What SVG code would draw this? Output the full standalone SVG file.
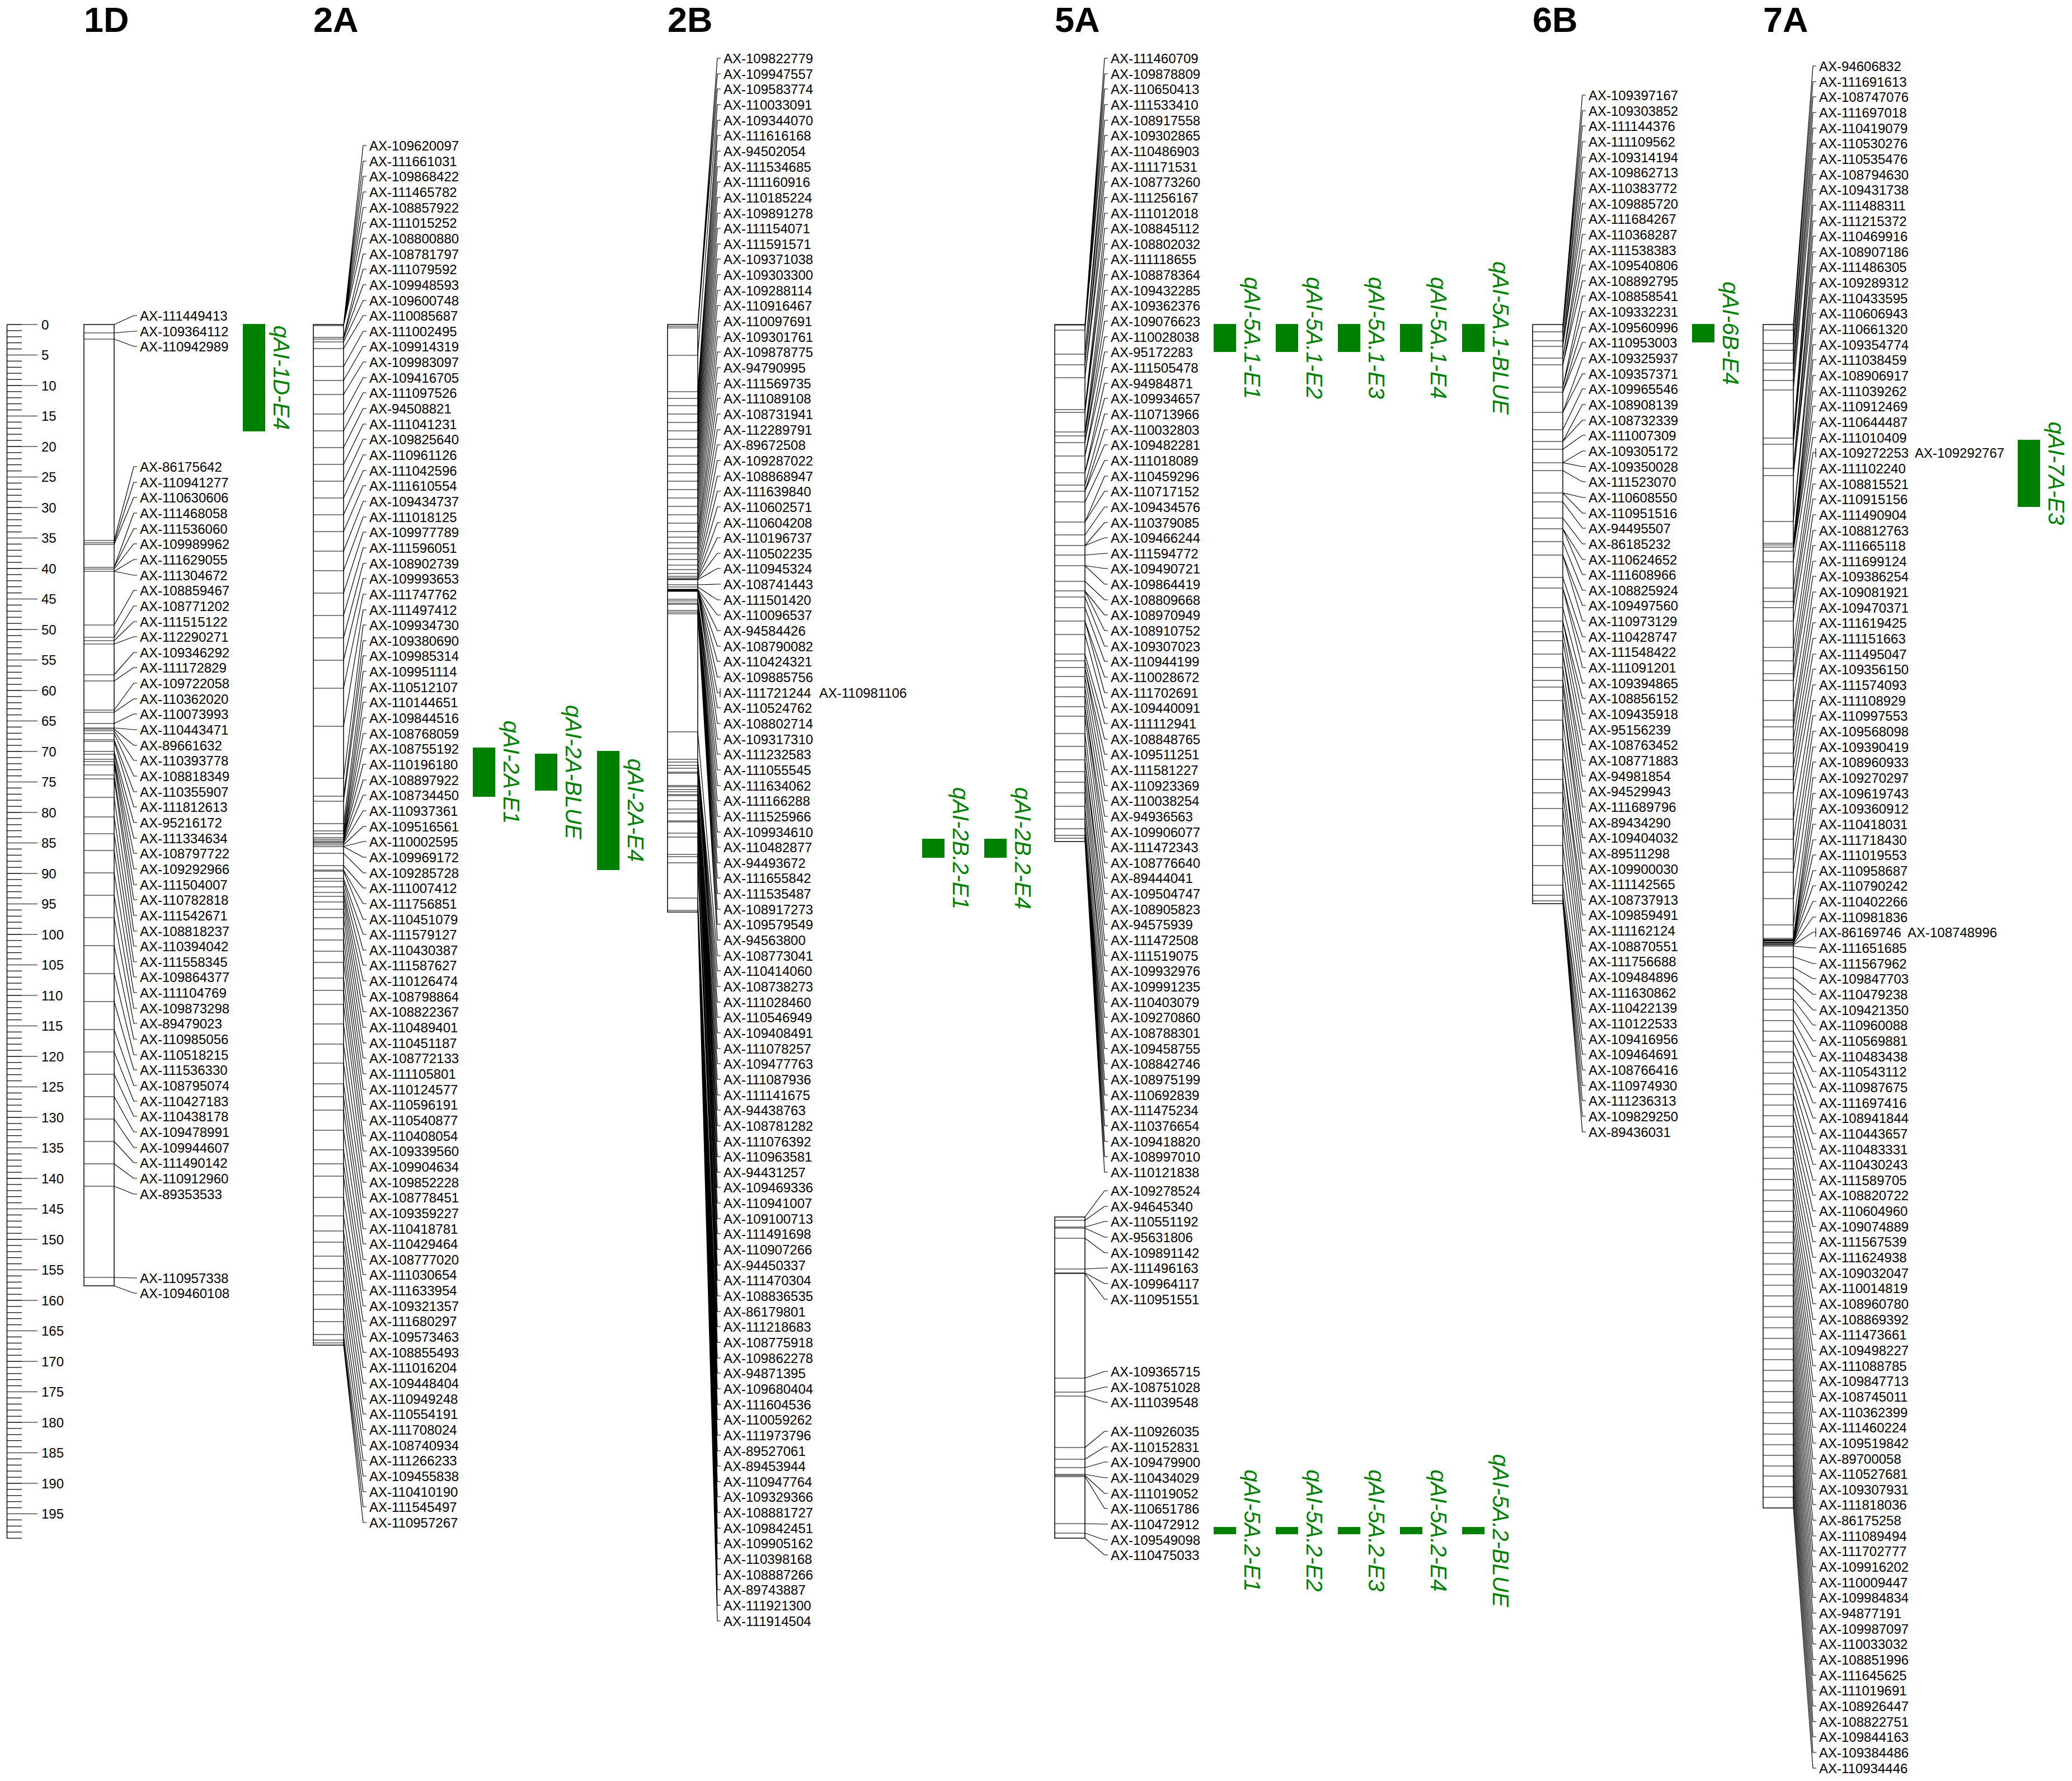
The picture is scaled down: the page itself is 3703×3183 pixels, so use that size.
<svg xmlns="http://www.w3.org/2000/svg" width="3703" height="3183" viewBox="0 0 3703 3183">
<style>
text{font-family:"Liberation Sans",Arial,Helvetica,sans-serif;fill:#000}
.t{font-size:63px;font-weight:bold}
.m text,.r text{font-size:24px}
.q{fill:#008000}
.ql{font-size:40px;font-style:italic;fill:#008000;text-anchor:middle}
.bar{fill:#fff;stroke:#000;stroke-width:1.5}
.ln{fill:none;stroke:#000;stroke-width:1.2}
</style>
<rect width="3703" height="3183" fill="#fff"/>
<g id="ruler">
<path d="M25.75,579.4V2750" stroke="#000" stroke-width="26.5" stroke-dasharray="1.2 9.7" fill="none"/>
<path d="M39.75,579.4V2750" stroke="#000" stroke-width="54.5" stroke-dasharray="1.2 53.3" fill="none"/>
<path d="M12.5,580V2749.6" stroke="#000" stroke-width="1.5"/>
<g class="r" transform="translate(74,8.6)">
<text y="580">0</text><text y="634.5">5</text><text y="689">10</text><text y="743.5">15</text><text y="798">20</text><text y="852.5">25</text><text y="907">30</text><text y="961.5">35</text><text y="1016">40</text><text y="1070.5">45</text><text y="1125">50</text><text y="1179.5">55</text><text y="1234">60</text><text y="1288.5">65</text><text y="1343">70</text><text y="1397.5">75</text><text y="1452">80</text><text y="1506.5">85</text><text y="1561">90</text><text y="1615.5">95</text><text y="1670">100</text><text y="1724.5">105</text><text y="1779">110</text><text y="1833.5">115</text><text y="1888">120</text><text y="1942.5">125</text><text y="1997">130</text><text y="2051.5">135</text><text y="2106">140</text><text y="2160.5">145</text><text y="2215">150</text><text y="2269.5">155</text><text y="2324">160</text><text y="2378.5">165</text><text y="2433">170</text><text y="2487.5">175</text><text y="2542">180</text><text y="2596.5">185</text><text y="2651">190</text><text y="2705.5">195</text>
</g>
</g>

<g id="chr1D">
<text class="t" x="150" y="57">1D</text>
<rect class="bar" x="150" y="580" width="54" height="1718"/>
<path class="ln" transform="translate(150,0)" d="M0,595h54M0,606h54M0,966h54M0,970h54M0,973h54M0,1014h54M0,1017h54M0,1021h54M0,1117h54M0,1139h54M0,1145h54M0,1151h54M0,1206h54M0,1217h54M0,1269h54M0,1273h54M0,1293h54M0,1301h54M0,1303h54M0,1306h54M0,1311h54M0,1322h54M0,1325h54M0,1343h54M0,1348h54M0,1357h54M0,1361h54M0,1367h54M0,1385h54M0,1392h54M0,1425h54M0,1460h54M0,1490h54M0,1520h54M0,1560h54M0,1600h54M0,1640h54M0,1690h54M0,1740h54M0,1790h54M0,1840h54M0,1880h54M0,1920h54M0,1960h54M0,2000h54M0,2040h54M0,2080h54M0,2120h54M0,2283h54"/>
<g class="m" transform="translate(250,8.6)">
<text y="564">AX-111449413</text><text y="592">AX-109364112</text><text y="619">AX-110942989</text>
<text y="834">AX-86175642</text><text y="862">AX-110941277</text><text y="889">AX-110630606</text><text y="917">AX-111468058</text><text y="945">AX-111536060</text><text y="972">AX-109989962</text><text y="1000">AX-111629055</text><text y="1028">AX-111304672</text><text y="1055">AX-108859467</text><text y="1083">AX-108771202</text><text y="1111">AX-111515122</text><text y="1138">AX-112290271</text><text y="1166">AX-109346292</text><text y="1193">AX-111172829</text><text y="1221">AX-109722058</text><text y="1249">AX-110362020</text><text y="1276">AX-110073993</text><text y="1304">AX-110443471</text><text y="1332">AX-89661632</text><text y="1359">AX-110393778</text><text y="1387">AX-108818349</text><text y="1415">AX-110355907</text><text y="1442">AX-111812613</text><text y="1470">AX-95216172</text><text y="1498">AX-111334634</text><text y="1525">AX-108797722</text><text y="1553">AX-109292966</text><text y="1581">AX-111504007</text><text y="1608">AX-110782818</text><text y="1636">AX-111542671</text><text y="1664">AX-108818237</text><text y="1691">AX-110394042</text><text y="1719">AX-111558345</text><text y="1746">AX-109864377</text><text y="1774">AX-111104769</text><text y="1802">AX-109873298</text><text y="1829">AX-89479023</text><text y="1857">AX-110985056</text><text y="1885">AX-110518215</text><text y="1912">AX-111536330</text><text y="1940">AX-108795074</text><text y="1968">AX-110427183</text><text y="1995">AX-110438178</text><text y="2023">AX-109478991</text><text y="2051">AX-109944607</text><text y="2078">AX-111490142</text><text y="2106">AX-110912960</text><text y="2134">AX-89353533</text>
<text y="2284">AX-110957338</text><text y="2311">AX-109460108</text>
</g>
</g>

<g id="chr2A">
<text class="t" x="560" y="57">2A</text>
<rect class="bar" x="560" y="580" width="54" height="1824"/>
<path class="ln" transform="translate(560,0)" d="M0,582h54M0,603h54M0,606h54M0,611h54M0,623h54M0,655h54M0,680h54M0,705h54M0,740h54M0,770h54M0,800h54M0,830h54M0,860h54M0,890h54M0,920h54M0,950h54M0,985h54M0,1020h54M0,1060h54M0,1100h54M0,1140h54M0,1180h54M0,1230h54M0,1298h54M0,1391h54M0,1423h54M0,1432h54M0,1472h54M0,1485h54M0,1490h54M0,1497h54M0,1500h54M0,1503h54M0,1505h54M0,1507h54M0,1510h54M0,1513h54M0,1525h54M0,1547h54M0,1555h54M0,1557h54M0,1570h54M0,1575h54M0,1585h54M0,1595h54M0,1602h54M0,1612h54M0,1625h54M0,1640h54M0,1660h54M0,1680h54M0,1700h54M0,1720h54M0,1748h54M0,1770h54M0,1795h54M0,1830h54M0,1866h54M0,1900h54M0,1937h54M0,1960h54M0,1984h54M0,2020h54M0,2055h54M0,2080h54M0,2102h54M0,2140h54M0,2173h54M0,2200h54M0,2220h54M0,2245h54M0,2267h54M0,2290h54M0,2314h54M0,2340h54M0,2362h54M0,2385h54M0,2395h54M0,2400h54"/>
<g class="m" transform="translate(660,8.6)">
<text y="260">AX-109620097</text><text y="288">AX-111661031</text><text y="315">AX-109868422</text><text y="343">AX-111465782</text><text y="371">AX-108857922</text><text y="398">AX-111015252</text><text y="426">AX-108800880</text><text y="454">AX-108781797</text><text y="481">AX-111079592</text><text y="509">AX-109948593</text>
<text y="537">AX-109600748</text><text y="564">AX-110085687</text><text y="592">AX-111002495</text><text y="619">AX-109914319</text><text y="647">AX-109983097</text><text y="675">AX-109416705</text><text y="702">AX-111097526</text><text y="730">AX-94508821</text><text y="758">AX-111041231</text><text y="785">AX-109825640</text>
<text y="813">AX-110961126</text><text y="841">AX-111042596</text><text y="868">AX-111610554</text><text y="896">AX-109434737</text><text y="924">AX-111018125</text><text y="951">AX-109977789</text><text y="979">AX-111596051</text><text y="1007">AX-108902739</text><text y="1034">AX-109993653</text><text y="1062">AX-111747762</text>
<text y="1090">AX-111497412</text><text y="1117">AX-109934730</text><text y="1145">AX-109380690</text><text y="1172">AX-109985314</text><text y="1200">AX-109951114</text><text y="1228">AX-110512107</text><text y="1255">AX-110144651</text><text y="1283">AX-109844516</text><text y="1311">AX-108768059</text><text y="1338">AX-108755192</text>
<text y="1366">AX-110196180</text><text y="1394">AX-108897922</text><text y="1421">AX-108734450</text><text y="1449">AX-110937361</text><text y="1477">AX-109516561</text><text y="1504">AX-110002595</text><text y="1532">AX-109969172</text><text y="1560">AX-109285728</text><text y="1587">AX-111007412</text><text y="1615">AX-111756851</text>
<text y="1643">AX-110451079</text><text y="1670">AX-111579127</text><text y="1698">AX-110430387</text><text y="1725">AX-111587627</text><text y="1753">AX-110126474</text><text y="1781">AX-108798864</text><text y="1808">AX-108822367</text><text y="1836">AX-110489401</text><text y="1864">AX-110451187</text><text y="1891">AX-108772133</text>
<text y="1919">AX-111105801</text><text y="1947">AX-110124577</text><text y="1974">AX-110596191</text><text y="2002">AX-110540877</text><text y="2030">AX-110408054</text><text y="2057">AX-109339560</text><text y="2085">AX-109904634</text><text y="2113">AX-109852228</text><text y="2140">AX-108778451</text><text y="2168">AX-109359227</text>
<text y="2196">AX-110418781</text><text y="2223">AX-110429464</text><text y="2251">AX-108777020</text><text y="2278">AX-111030654</text><text y="2306">AX-111633954</text><text y="2334">AX-109321357</text><text y="2361">AX-111680297</text><text y="2389">AX-109573463</text><text y="2417">AX-108855493</text><text y="2444">AX-111016204</text>
<text y="2472">AX-109448404</text><text y="2500">AX-110949248</text><text y="2527">AX-110554191</text><text y="2555">AX-111708024</text><text y="2583">AX-108740934</text><text y="2610">AX-111266233</text><text y="2638">AX-109455838</text><text y="2666">AX-110410190</text><text y="2693">AX-111545497</text><text y="2721">AX-110957267</text>
</g>
</g>

<g id="chr2B">
<text class="t" x="1193" y="57">2B</text>
<rect class="bar" x="1193" y="580" width="54" height="1050"/>
<path class="ln" transform="translate(1193,0)" d="M0,583h54M0,586h54M0,635h54M0,700h54M0,712h54M0,725h54M0,740h54M0,755h54M0,770h54M0,785h54M0,800h54M0,815h54M0,830h54M0,845h54M0,860h54M0,875h54M0,890h54M0,905h54M0,920h54M0,935h54M0,950h54M0,960h54M0,970h54M0,980h54M0,990h54M0,1000h54M0,1010h54M0,1018h54M0,1025h54M0,1030h54M0,1033h54M0,1035h54M0,1036h54M0,1045h54M0,1049h54M0,1053h54M0,1054h54M0,1055h54M0,1056h54M0,1057h54M0,1071h54M0,1074h54M0,1078h54M0,1080h54M0,1091h54M0,1094h54M0,1097h54M0,1308h54M0,1357h54M0,1362h54M0,1368h54M0,1373h54M0,1380h54M0,1382h54M0,1404h54M0,1406h54M0,1411h54M0,1415h54M0,1420h54M0,1422h54M0,1431h54M0,1446h54M0,1453h54M0,1467h54M0,1469h54M0,1489h54M0,1496h54M0,1527h54M0,1531h54M0,1542h54M0,1605h54M0,1627h54"/>
<g class="m" transform="translate(1293,8.6)">
<text y="104">AX-109822779</text><text y="132">AX-109947557</text><text y="159">AX-109583774</text><text y="187">AX-110033091</text><text y="215">AX-109344070</text><text y="242">AX-111616168</text><text y="270">AX-94502054</text><text y="298">AX-111534685</text><text y="325">AX-111160916</text><text y="353">AX-110185224</text>
<text y="381">AX-109891278</text><text y="408">AX-111154071</text><text y="436">AX-111591571</text><text y="463">AX-109371038</text><text y="491">AX-109303300</text><text y="519">AX-109288114</text><text y="546">AX-110916467</text><text y="574">AX-110097691</text><text y="602">AX-109301761</text><text y="629">AX-109878775</text>
<text y="657">AX-94790995</text><text y="685">AX-111569735</text><text y="712">AX-111089108</text><text y="740">AX-108731941</text><text y="768">AX-112289791</text><text y="795">AX-89672508</text><text y="823">AX-109287022</text><text y="851">AX-108868947</text><text y="878">AX-111639840</text><text y="906">AX-110602571</text>
<text y="934">AX-110604208</text><text y="961">AX-110196737</text><text y="989">AX-110502235</text><text y="1016">AX-110945324</text><text y="1044">AX-108741443</text><text y="1072">AX-111501420</text><text y="1099">AX-110096537</text><text y="1127">AX-94584426</text><text y="1155">AX-108790082</text><text y="1182">AX-110424321</text>
<text y="1210">AX-109885756</text><text y="1238">AX-111721244</text><text x="171" y="1238">AX-110981106</text><text y="1265">AX-110524762</text><text y="1293">AX-108802714</text><text y="1321">AX-109317310</text><text y="1348">AX-111232583</text><text y="1376">AX-111055545</text><text y="1404">AX-111634062</text><text y="1431">AX-111166288</text><text y="1459">AX-111525966</text>
<text y="1487">AX-109934610</text><text y="1514">AX-110482877</text><text y="1542">AX-94493672</text><text y="1569">AX-111655842</text><text y="1597">AX-111535487</text><text y="1625">AX-108917273</text><text y="1652">AX-109579549</text><text y="1680">AX-94563800</text><text y="1708">AX-108773041</text><text y="1735">AX-110414060</text>
<text y="1763">AX-108738273</text><text y="1791">AX-111028460</text><text y="1818">AX-110546949</text><text y="1846">AX-109408491</text><text y="1874">AX-111078257</text><text y="1901">AX-109477763</text><text y="1929">AX-111087936</text><text y="1957">AX-111141675</text><text y="1984">AX-94438763</text><text y="2012">AX-108781282</text>
<text y="2040">AX-111076392</text><text y="2067">AX-110963581</text><text y="2095">AX-94431257</text><text y="2122">AX-109469336</text><text y="2150">AX-110941007</text><text y="2178">AX-109100713</text><text y="2205">AX-111491698</text><text y="2233">AX-110907266</text><text y="2261">AX-94450337</text><text y="2288">AX-111470304</text>
<text y="2316">AX-108836535</text><text y="2344">AX-86179801</text><text y="2371">AX-111218683</text><text y="2399">AX-108775918</text><text y="2427">AX-109862278</text><text y="2454">AX-94871395</text><text y="2482">AX-109680404</text><text y="2510">AX-111604536</text><text y="2537">AX-110059262</text><text y="2565">AX-111973796</text>
<text y="2593">AX-89527061</text><text y="2620">AX-89453944</text><text y="2648">AX-110947764</text><text y="2675">AX-109329366</text><text y="2703">AX-108881727</text><text y="2731">AX-109842451</text><text y="2758">AX-109905162</text><text y="2786">AX-110398168</text><text y="2814">AX-108887266</text><text y="2841">AX-89743887</text>
<text y="2869">AX-111921300</text><text y="2897">AX-111914504</text>
</g>
</g>

<g id="chr5A">
<text class="t" x="1885" y="57">5A</text>
<rect class="bar" x="1885" y="580" width="54" height="924"/>
<rect class="bar" x="1885" y="2175" width="54" height="574"/>
<path class="ln" transform="translate(1885,0)" d="M0,581h54M0,590h54M0,633h54M0,652h54M0,675h54M0,732h54M0,737h54M0,772h54M0,779h54M0,791h54M0,815h54M0,845h54M0,867h54M0,878h54M0,897h54M0,933h54M0,956h54M0,975h54M0,992h54M0,1011h54M0,1039h54M0,1056h54M0,1067h54M0,1086h54M0,1110h54M0,1134h54M0,1169h54M0,1181h54M0,1193h54M0,1209h54M0,1228h54M0,1245h54M0,1263h54M0,1280h54M0,1311h54M0,1334h54M0,1358h54M0,1379h54M0,1398h54M0,1417h54M0,1441h54M0,1464h54M0,1481h54M0,1493h54M0,1498h54M0,2181h54M0,2193h54M0,2195h54M0,2213h54M0,2268h54M0,2275h54M0,2276h54M0,2463h54M0,2488h54M0,2495h54M0,2587h54M0,2608h54M0,2623h54M0,2635h54M0,2637h54M0,2639h54M0,2723h54M0,2740h54"/>
<g class="m" transform="translate(1985,8.6)">
<text y="104">AX-111460709</text><text y="132">AX-109878809</text><text y="159">AX-110650413</text><text y="187">AX-111533410</text><text y="215">AX-108917558</text><text y="242">AX-109302865</text><text y="270">AX-110486903</text><text y="298">AX-111171531</text><text y="325">AX-108773260</text><text y="353">AX-111256167</text>
<text y="381">AX-111012018</text><text y="408">AX-108845112</text><text y="436">AX-108802032</text><text y="463">AX-111118655</text><text y="491">AX-108878364</text><text y="519">AX-109432285</text><text y="546">AX-109362376</text><text y="574">AX-109076623</text><text y="602">AX-110028038</text><text y="629">AX-95172283</text>
<text y="657">AX-111505478</text><text y="685">AX-94984871</text><text y="712">AX-109934657</text><text y="740">AX-110713966</text><text y="768">AX-110032803</text><text y="795">AX-109482281</text><text y="823">AX-111018089</text><text y="851">AX-110459296</text><text y="878">AX-110717152</text><text y="906">AX-109434576</text>
<text y="934">AX-110379085</text><text y="961">AX-109466244</text><text y="989">AX-111594772</text><text y="1016">AX-109490721</text><text y="1044">AX-109864419</text><text y="1072">AX-108809668</text><text y="1099">AX-108970949</text><text y="1127">AX-108910752</text><text y="1155">AX-109307023</text><text y="1182">AX-110944199</text>
<text y="1210">AX-110028672</text><text y="1238">AX-111702691</text><text y="1265">AX-109440091</text><text y="1293">AX-111112941</text><text y="1321">AX-108848765</text><text y="1348">AX-109511251</text><text y="1376">AX-111581227</text><text y="1404">AX-110923369</text><text y="1431">AX-110038254</text><text y="1459">AX-94936563</text>
<text y="1487">AX-109906077</text><text y="1514">AX-111472343</text><text y="1542">AX-108776640</text><text y="1569">AX-89444041</text><text y="1597">AX-109504747</text><text y="1625">AX-108905823</text><text y="1652">AX-94575939</text><text y="1680">AX-111472508</text><text y="1708">AX-111519075</text><text y="1735">AX-109932976</text>
<text y="1763">AX-109991235</text><text y="1791">AX-110403079</text><text y="1818">AX-109270860</text><text y="1846">AX-108788301</text><text y="1874">AX-109458755</text><text y="1901">AX-108842746</text><text y="1929">AX-108975199</text><text y="1957">AX-110692839</text><text y="1984">AX-111475234</text><text y="2012">AX-110376654</text>
<text y="2040">AX-109418820</text><text y="2067">AX-108997010</text><text y="2095">AX-110121838</text>
<text y="2128">AX-109278524</text><text y="2156">AX-94645340</text><text y="2183">AX-110551192</text><text y="2211">AX-95631806</text><text y="2239">AX-109891142</text><text y="2266">AX-111496163</text><text y="2294">AX-109964117</text><text y="2322">AX-110951551</text>
<text y="2451">AX-109365715</text><text y="2479">AX-108751028</text><text y="2506">AX-111039548</text>
<text y="2558">AX-110926035</text><text y="2586">AX-110152831</text><text y="2613">AX-109479900</text><text y="2641">AX-110434029</text><text y="2669">AX-111019052</text><text y="2696">AX-110651786</text><text y="2724">AX-110472912</text><text y="2752">AX-109549098</text><text y="2779">AX-110475033</text>
</g>
</g>

<g id="chr6B">
<text class="t" x="2739" y="57">6B</text>
<rect class="bar" x="2739" y="580" width="54" height="1035"/>
<path class="ln" transform="translate(2739,0)" d="M0,593h54M0,609h54M0,619h54M0,640h54M0,652h54M0,692h54M0,701h54M0,737h54M0,768h54M0,789h54M0,803h54M0,827h54M0,841h54M0,881h54M0,897h54M0,926h54M0,945h54M0,968h54M0,992h54M0,1032h54M0,1051h54M0,1086h54M0,1110h54M0,1129h54M0,1145h54M0,1169h54M0,1193h54M0,1216h54M0,1228h54M0,1252h54M0,1287h54M0,1322h54M0,1358h54M0,1393h54M0,1417h54M0,1445h54M0,1476h54M0,1511h54M0,1547h54M0,1582h54M0,1600h54M0,1610h54"/>
<g class="m" transform="translate(2839,8.6)">
<text y="170">AX-109397167</text><text y="198">AX-109303852</text><text y="225">AX-111144376</text><text y="253">AX-111109562</text><text y="281">AX-109314194</text><text y="308">AX-109862713</text><text y="336">AX-110383772</text><text y="364">AX-109885720</text><text y="391">AX-111684267</text><text y="419">AX-110368287</text>
<text y="447">AX-111538383</text><text y="474">AX-109540806</text><text y="502">AX-108892795</text><text y="529">AX-108858541</text><text y="557">AX-109332231</text><text y="585">AX-109560996</text><text y="612">AX-110953003</text><text y="640">AX-109325937</text><text y="668">AX-109357371</text><text y="695">AX-109965546</text>
<text y="723">AX-108908139</text><text y="751">AX-108732339</text><text y="778">AX-111007309</text><text y="806">AX-109305172</text><text y="834">AX-109350028</text><text y="861">AX-111523070</text><text y="889">AX-110608550</text><text y="917">AX-110951516</text><text y="944">AX-94495507</text><text y="972">AX-86185232</text>
<text y="1000">AX-110624652</text><text y="1027">AX-111608966</text><text y="1055">AX-108825924</text><text y="1082">AX-109497560</text><text y="1110">AX-110973129</text><text y="1138">AX-110428747</text><text y="1165">AX-111548422</text><text y="1193">AX-111091201</text><text y="1221">AX-109394865</text><text y="1248">AX-108856152</text>
<text y="1276">AX-109435918</text><text y="1304">AX-95156239</text><text y="1331">AX-108763452</text><text y="1359">AX-108771883</text><text y="1387">AX-94981854</text><text y="1414">AX-94529943</text><text y="1442">AX-111689796</text><text y="1470">AX-89434290</text><text y="1497">AX-109404032</text><text y="1525">AX-89511298</text>
<text y="1553">AX-109900030</text><text y="1580">AX-111142565</text><text y="1608">AX-108737913</text><text y="1635">AX-109859491</text><text y="1663">AX-111162124</text><text y="1691">AX-108870551</text><text y="1718">AX-111756688</text><text y="1746">AX-109484896</text><text y="1774">AX-111630862</text><text y="1801">AX-110422139</text>
<text y="1829">AX-110122533</text><text y="1857">AX-109416956</text><text y="1884">AX-109464691</text><text y="1912">AX-108766416</text><text y="1940">AX-110974930</text><text y="1967">AX-111236313</text><text y="1995">AX-109829250</text><text y="2023">AX-89436031</text>
</g>
</g>

<g id="chr7A">
<text class="t" x="3151" y="57">7A</text>
<rect class="bar" x="3151" y="580" width="54" height="2115"/>
<path class="ln" transform="translate(3151,0)" d="M0,590h54M0,614h54M0,626h54M0,649h54M0,661h54M0,680h54M0,697h54M0,783h54M0,794h54M0,837h54M0,850h54M0,932h54M0,971h54M0,974h54M0,978h54M0,985h54M0,1004h54M0,1051h54M0,1075h54M0,1086h54M0,1110h54M0,1157h54M0,1181h54M0,1204h54M0,1216h54M0,1252h54M0,1287h54M0,1299h54M0,1322h54M0,1346h54M0,1370h54M0,1393h54M0,1417h54M0,1464h54M0,1500h54M0,1535h54M0,1559h54M0,1606h54M0,1653h54M0,1677h54M0,1679h54M0,1680h54M0,1681h54M0,1682h54M0,1684h54M0,1685h54M0,1686h54M0,1688h54M0,1689h54M0,1691h54M0,1710h54M0,1729h54M0,1748h54M0,1767h54M0,1786h54M0,1805h54M0,1824h54M0,1843h54M0,1861h54M0,1880h54M0,1899h54M0,1918h54M0,1937h54M0,1956h54M0,1975h54M0,1994h54M0,2013h54M0,2032h54M0,2051h54M0,2070h54M0,2089h54M0,2108h54M0,2127h54M0,2146h54M0,2165h54M0,2183h54M0,2202h54M0,2221h54M0,2240h54M0,2259h54M0,2278h54M0,2297h54M0,2316h54M0,2335h54M0,2354h54M0,2373h54M0,2392h54M0,2411h54M0,2430h54M0,2449h54M0,2468h54M0,2487h54M0,2506h54M0,2525h54M0,2544h54M0,2563h54M0,2582h54M0,2601h54M0,2620h54M0,2638h54M0,2657h54M0,2676h54"/>
<g class="m" transform="translate(3251,8.6)">
<text y="118">AX-94606832</text><text y="146">AX-111691613</text><text y="173">AX-108747076</text><text y="201">AX-111697018</text><text y="229">AX-110419079</text><text y="256">AX-110530276</text><text y="284">AX-110535476</text><text y="312">AX-108794630</text><text y="339">AX-109431738</text><text y="367">AX-111488311</text>
<text y="395">AX-111215372</text><text y="422">AX-110469916</text><text y="450">AX-108907186</text><text y="477">AX-111486305</text><text y="505">AX-109289312</text><text y="533">AX-110433595</text><text y="560">AX-110606943</text><text y="588">AX-110661320</text><text y="616">AX-109354774</text><text y="643">AX-111038459</text>
<text y="671">AX-108906917</text><text y="699">AX-111039262</text><text y="726">AX-110912469</text><text y="754">AX-110644487</text><text y="782">AX-111010409</text><text y="809">AX-109272253</text><text x="171" y="809">AX-109292767</text><text y="837">AX-111102240</text><text y="865">AX-108815521</text><text y="892">AX-110915156</text><text y="920">AX-111490904</text>
<text y="948">AX-108812763</text><text y="975">AX-111665118</text><text y="1003">AX-111699124</text><text y="1030">AX-109386254</text><text y="1058">AX-109081921</text><text y="1086">AX-109470371</text><text y="1113">AX-111619425</text><text y="1141">AX-111151663</text><text y="1169">AX-111495047</text><text y="1196">AX-109356150</text>
<text y="1224">AX-111574093</text><text y="1252">AX-111108929</text><text y="1279">AX-110997553</text><text y="1307">AX-109568098</text><text y="1335">AX-109390419</text><text y="1362">AX-108960933</text><text y="1390">AX-109270297</text><text y="1418">AX-109619743</text><text y="1445">AX-109360912</text><text y="1473">AX-110418031</text>
<text y="1501">AX-111718430</text><text y="1528">AX-111019553</text><text y="1556">AX-110958687</text><text y="1583">AX-110790242</text><text y="1611">AX-110402266</text><text y="1639">AX-110981836</text><text y="1666">AX-86169746</text><text x="158" y="1666">AX-108748996</text><text y="1694">AX-111651685</text><text y="1722">AX-111567962</text><text y="1749">AX-109847703</text>
<text y="1777">AX-110479238</text><text y="1805">AX-109421350</text><text y="1832">AX-110960088</text><text y="1860">AX-110569881</text><text y="1888">AX-110483438</text><text y="1915">AX-110543112</text><text y="1943">AX-110987675</text><text y="1971">AX-111697416</text><text y="1998">AX-108941844</text><text y="2026">AX-110443657</text>
<text y="2054">AX-110483331</text><text y="2081">AX-110430243</text><text y="2109">AX-111589705</text><text y="2136">AX-108820722</text><text y="2164">AX-110604960</text><text y="2192">AX-109074889</text><text y="2219">AX-111567539</text><text y="2247">AX-111624938</text><text y="2275">AX-109032047</text><text y="2302">AX-110014819</text>
<text y="2330">AX-108960780</text><text y="2358">AX-108869392</text><text y="2385">AX-111473661</text><text y="2413">AX-109498227</text><text y="2441">AX-111088785</text><text y="2468">AX-109847713</text><text y="2496">AX-108745011</text><text y="2524">AX-110362399</text><text y="2551">AX-111460224</text><text y="2579">AX-109519842</text>
<text y="2607">AX-89700058</text><text y="2634">AX-110527681</text><text y="2662">AX-109307931</text><text y="2689">AX-111818036</text><text y="2717">AX-86175258</text><text y="2745">AX-111089494</text><text y="2772">AX-111702777</text><text y="2800">AX-109916202</text><text y="2828">AX-110009447</text><text y="2855">AX-109984834</text>
<text y="2883">AX-94877191</text><text y="2911">AX-109987097</text><text y="2938">AX-110033032</text><text y="2966">AX-108851996</text><text y="2994">AX-111645625</text><text y="3021">AX-111019691</text><text y="3049">AX-108926447</text><text y="3077">AX-108822751</text><text y="3104">AX-109844163</text><text y="3132">AX-109384486</text>
<text y="3160">AX-110934446</text>
</g>
</g>

<g id="connectors" class="ln">
<path transform="translate(204,0)" d="M0,580L35,564h6M0,595L35,592h6M0,606L35,619h6M0,966L35,834h6M0,970L35,862h6M0,973L35,889h6M0,1014L35,917h6M0,1014L35,945h6M0,1017L35,972h6M0,1021L35,1000h6M0,1021L35,1028h6M0,1117L35,1055h6M0,1139L35,1083h6M0,1145L35,1111h6M0,1151L35,1138h6M0,1206L35,1166h6M0,1217L35,1193h6M0,1269L35,1221h6M0,1273L35,1249h6M0,1293L35,1276h6M0,1301L35,1304h6M0,1303L35,1332h6M0,1306L35,1359h6M0,1311L35,1387h6M0,1322L35,1415h6M0,1325L35,1442h6M0,1343L35,1470h6M0,1348L35,1498h6M0,1357L35,1525h6M0,1361L35,1553h6M0,1367L35,1581h6M0,1385L35,1608h6M0,1392L35,1636h6M0,1425L35,1664h6M0,1460L35,1691h6M0,1490L35,1719h6M0,1520L35,1746h6M0,1560L35,1774h6M0,1600L35,1802h6M0,1640L35,1829h6M0,1690L35,1857h6M0,1740L35,1885h6M0,1790L35,1912h6M0,1840L35,1940h6M0,1880L35,1968h6M0,1920L35,1995h6M0,1960L35,2023h6M0,2000L35,2051h6M0,2040L35,2078h6M0,2080L35,2106h6M0,2120L35,2134h6M0,2283L35,2284h6M0,2298L35,2311h6"/>
<path transform="translate(614,0)" d="M0,580L35,260h6M0,580L35,288h6M0,580L35,315h6M0,582L35,343h6M0,582L35,371h6M0,582L35,398h6M0,582L35,426h6M0,603L35,454h6M0,603L35,481h6M0,606L35,509h6M0,611L35,537h6M0,623L35,564h6M0,655L35,592h6M0,680L35,619h6M0,705L35,647h6M0,740L35,675h6M0,770L35,702h6M0,800L35,730h6M0,830L35,758h6M0,860L35,785h6M0,890L35,813h6M0,920L35,841h6M0,950L35,868h6M0,985L35,896h6M0,1020L35,924h6M0,1060L35,951h6M0,1100L35,979h6M0,1140L35,1007h6M0,1180L35,1034h6M0,1230L35,1062h6M0,1298L35,1090h6M0,1391L35,1117h6M0,1423L35,1145h6M0,1432L35,1172h6M0,1472L35,1200h6M0,1485L35,1228h6M0,1490L35,1255h6M0,1497L35,1283h6M0,1497L35,1311h6M0,1500L35,1338h6M0,1500L35,1366h6M0,1503L35,1394h6M0,1505L35,1421h6M0,1507L35,1449h6M0,1510L35,1477h6M0,1513L35,1504h6M0,1513L35,1532h6M0,1525L35,1560h6M0,1547L35,1587h6M0,1555L35,1615h6M0,1557L35,1643h6M0,1570L35,1670h6M0,1575L35,1698h6M0,1585L35,1725h6M0,1595L35,1753h6M0,1602L35,1781h6M0,1612L35,1808h6M0,1625L35,1836h6M0,1640L35,1864h6M0,1660L35,1891h6M0,1680L35,1919h6M0,1700L35,1947h6M0,1720L35,1974h6M0,1748L35,2002h6M0,1770L35,2030h6M0,1795L35,2057h6M0,1830L35,2085h6M0,1866L35,2113h6M0,1900L35,2140h6M0,1937L35,2168h6M0,1960L35,2196h6M0,1984L35,2223h6M0,2020L35,2251h6M0,2055L35,2278h6M0,2080L35,2306h6M0,2102L35,2334h6M0,2140L35,2361h6M0,2173L35,2389h6M0,2200L35,2417h6M0,2220L35,2444h6M0,2245L35,2472h6M0,2267L35,2500h6M0,2290L35,2527h6M0,2314L35,2555h6M0,2340L35,2583h6M0,2362L35,2610h6M0,2385L35,2638h6M0,2395L35,2666h6M0,2400L35,2693h6M0,2404L35,2721h6"/>
<path transform="translate(1247,0)" d="M0,580L35,104h6M0,583L35,132h6M0,586L35,159h6M0,635L35,187h6M0,700L35,215h6M0,712L35,242h6M0,725L35,270h6M0,740L35,298h6M0,755L35,325h6M0,770L35,353h6M0,785L35,381h6M0,800L35,408h6M0,815L35,436h6M0,830L35,463h6M0,845L35,491h6M0,860L35,519h6M0,875L35,546h6M0,890L35,574h6M0,905L35,602h6M0,920L35,629h6M0,935L35,657h6M0,950L35,685h6M0,960L35,712h6M0,970L35,740h6M0,980L35,768h6M0,990L35,795h6M0,1000L35,823h6M0,1010L35,851h6M0,1018L35,878h6M0,1025L35,906h6M0,1030L35,934h6M0,1033L35,961h6M0,1035L35,989h6M0,1036L35,1016h6M0,1045L35,1044h6M0,1049L35,1072h6M0,1053L35,1099h6M0,1054L35,1127h6M0,1055L35,1155h6M0,1055L35,1182h6M0,1056L35,1210h6M0,1056L35,1238h6M40,1230v16M0,1057L35,1265h6M0,1057L35,1293h6M0,1071L35,1321h6M0,1074L35,1348h6M0,1078L35,1376h6M0,1080L35,1404h6M0,1091L35,1431h6M0,1094L35,1459h6M0,1097L35,1487h6M0,1097L35,1514h6M0,1097L35,1542h6M0,1097L35,1569h6M0,1097L35,1597h6M0,1097L35,1625h6M0,1097L35,1652h6M0,1097L35,1680h6M0,1308L35,1708h6M0,1357L35,1735h6M0,1362L35,1763h6M0,1368L35,1791h6M0,1373L35,1818h6M0,1380L35,1846h6M0,1382L35,1874h6M0,1404L35,1901h6M0,1406L35,1929h6M0,1411L35,1957h6M0,1415L35,1984h6M0,1420L35,2012h6M0,1422L35,2040h6M0,1431L35,2067h6M0,1446L35,2095h6M0,1453L35,2122h6M0,1467L35,2150h6M0,1469L35,2178h6M0,1489L35,2205h6M0,1496L35,2233h6M0,1527L35,2261h6M0,1531L35,2288h6M0,1542L35,2316h6M0,1542L35,2344h6M0,1542L35,2371h6M0,1605L35,2399h6M0,1605L35,2427h6M0,1627L35,2454h6M0,1627L35,2482h6M0,1627L35,2510h6M0,1627L35,2537h6M0,1627L35,2565h6M0,1627L35,2593h6M0,1627L35,2620h6M0,1627L35,2648h6M0,1627L35,2675h6M0,1630L35,2703h6M0,1630L35,2731h6M0,1630L35,2758h6M0,1630L35,2786h6M0,1630L35,2814h6M0,1630L35,2841h6M0,1630L35,2869h6M0,1630L35,2897h6"/>
<path transform="translate(1939,0)" d="M0,580L35,104h6M0,580L35,132h6M0,581L35,159h6M0,590L35,187h6M0,590L35,215h6M0,633L35,242h6M0,633L35,270h6M0,652L35,298h6M0,652L35,325h6M0,675L35,353h6M0,675L35,381h6M0,732L35,408h6M0,737L35,436h6M0,737L35,463h6M0,772L35,491h6M0,779L35,519h6M0,779L35,546h6M0,791L35,574h6M0,791L35,602h6M0,815L35,629h6M0,815L35,657h6M0,845L35,685h6M0,845L35,712h6M0,867L35,740h6M0,878L35,768h6M0,878L35,795h6M0,897L35,823h6M0,933L35,851h6M0,933L35,878h6M0,956L35,906h6M0,975L35,934h6M0,975L35,961h6M0,992L35,989h6M0,1011L35,1016h6M0,1011L35,1044h6M0,1039L35,1072h6M0,1056L35,1099h6M0,1056L35,1127h6M0,1067L35,1155h6M0,1086L35,1182h6M0,1110L35,1210h6M0,1110L35,1238h6M0,1134L35,1265h6M0,1169L35,1293h6M0,1181L35,1321h6M0,1193L35,1348h6M0,1193L35,1376h6M0,1209L35,1404h6M0,1228L35,1431h6M0,1245L35,1459h6M0,1263L35,1487h6M0,1263L35,1514h6M0,1280L35,1542h6M0,1311L35,1569h6M0,1334L35,1597h6M0,1358L35,1625h6M0,1358L35,1652h6M0,1379L35,1680h6M0,1398L35,1708h6M0,1417L35,1735h6M0,1441L35,1763h6M0,1441L35,1791h6M0,1464L35,1818h6M0,1481L35,1846h6M0,1493L35,1874h6M0,1493L35,1901h6M0,1498L35,1929h6M0,1498L35,1957h6M0,1504L35,1984h6M0,1504L35,2012h6M0,1504L35,2040h6M0,1504L35,2067h6M0,1504L35,2095h6M0,2175L35,2128h6M0,2181L35,2156h6M0,2193L35,2183h6M0,2195L35,2211h6M0,2213L35,2239h6M0,2268L35,2266h6M0,2275L35,2294h6M0,2276L35,2322h6M0,2463L35,2451h6M0,2488L35,2479h6M0,2495L35,2506h6M0,2587L35,2558h6M0,2608L35,2586h6M0,2623L35,2613h6M0,2635L35,2641h6M0,2637L35,2669h6M0,2639L35,2696h6M0,2723L35,2724h6M0,2740L35,2752h6M0,2749L35,2779h6"/>
<path transform="translate(2793,0)" d="M0,581L35,170h6M0,581L35,198h6M0,581L35,225h6M0,593L35,253h6M0,593L35,281h6M0,609L35,308h6M0,609L35,336h6M0,619L35,364h6M0,619L35,391h6M0,640L35,419h6M0,640L35,447h6M0,652L35,474h6M0,652L35,502h6M0,692L35,529h6M0,692L35,557h6M0,701L35,585h6M0,701L35,612h6M0,737L35,640h6M0,737L35,668h6M0,768L35,695h6M0,789L35,723h6M0,789L35,751h6M0,803L35,778h6M0,827L35,806h6M0,827L35,834h6M0,841L35,861h6M0,881L35,889h6M0,881L35,917h6M0,897L35,944h6M0,926L35,972h6M0,945L35,1000h6M0,945L35,1027h6M0,968L35,1055h6M0,992L35,1082h6M0,992L35,1110h6M0,1032L35,1138h6M0,1051L35,1165h6M0,1051L35,1193h6M0,1086L35,1221h6M0,1110L35,1248h6M0,1110L35,1276h6M0,1129L35,1304h6M0,1145L35,1331h6M0,1169L35,1359h6M0,1169L35,1387h6M0,1193L35,1414h6M0,1216L35,1442h6M0,1228L35,1470h6M0,1252L35,1497h6M0,1252L35,1525h6M0,1287L35,1553h6M0,1322L35,1580h6M0,1358L35,1608h6M0,1358L35,1635h6M0,1393L35,1663h6M0,1417L35,1691h6M0,1445L35,1718h6M0,1476L35,1746h6M0,1511L35,1774h6M0,1547L35,1801h6M0,1582L35,1829h6M0,1600L35,1857h6M0,1600L35,1884h6M0,1610L35,1912h6M0,1610L35,1940h6M0,1615L35,1967h6M0,1615L35,1995h6M0,1615L35,2023h6"/>
<path transform="translate(3205,0)" d="M0,581L35,118h6M0,590L35,146h6M0,614L35,173h6M0,626L35,201h6M0,649L35,229h6M0,661L35,256h6M0,680L35,284h6M0,697L35,312h6M0,783L35,339h6M0,783L35,367h6M0,794L35,395h6M0,794L35,422h6M0,837L35,450h6M0,837L35,477h6M0,850L35,505h6M0,850L35,533h6M0,932L35,560h6M0,932L35,588h6M0,971L35,616h6M0,974L35,643h6M0,978L35,671h6M0,978L35,699h6M0,985L35,726h6M0,985L35,754h6M0,1004L35,782h6M0,1051L35,809h6M40,801v16M0,1075L35,837h6M0,1086L35,865h6M0,1110L35,892h6M0,1157L35,920h6M0,1181L35,948h6M0,1204L35,975h6M0,1216L35,1003h6M0,1252L35,1030h6M0,1287L35,1058h6M0,1299L35,1086h6M0,1322L35,1113h6M0,1346L35,1141h6M0,1370L35,1169h6M0,1393L35,1196h6M0,1417L35,1224h6M0,1464L35,1252h6M0,1500L35,1279h6M0,1535L35,1307h6M0,1559L35,1335h6M0,1606L35,1362h6M0,1653L35,1390h6M0,1677L35,1418h6M0,1679L35,1445h6M0,1680L35,1473h6M0,1681L35,1501h6M0,1682L35,1528h6M0,1684L35,1556h6M0,1685L35,1583h6M0,1686L35,1611h6M0,1688L35,1639h6M0,1689L35,1666h6M40,1658v16M0,1691L35,1694h6M0,1710L35,1722h6M0,1729L35,1749h6M0,1748L35,1777h6M0,1767L35,1805h6M0,1786L35,1832h6M0,1805L35,1860h6M0,1824L35,1888h6M0,1843L35,1915h6M0,1861L35,1943h6M0,1880L35,1971h6M0,1899L35,1998h6M0,1918L35,2026h6M0,1937L35,2054h6M0,1956L35,2081h6M0,1975L35,2109h6M0,1994L35,2136h6M0,2013L35,2164h6M0,2032L35,2192h6M0,2051L35,2219h6M0,2070L35,2247h6M0,2089L35,2275h6M0,2108L35,2302h6M0,2127L35,2330h6M0,2146L35,2358h6M0,2165L35,2385h6M0,2183L35,2413h6M0,2202L35,2441h6M0,2221L35,2468h6M0,2240L35,2496h6M0,2259L35,2524h6M0,2278L35,2551h6M0,2297L35,2579h6M0,2316L35,2607h6M0,2335L35,2634h6M0,2354L35,2662h6M0,2373L35,2689h6M0,2392L35,2717h6M0,2411L35,2745h6M0,2430L35,2772h6M0,2449L35,2800h6M0,2468L35,2828h6M0,2487L35,2855h6M0,2506L35,2883h6M0,2525L35,2911h6M0,2544L35,2938h6M0,2563L35,2966h6M0,2582L35,2994h6M0,2601L35,3021h6M0,2620L35,3049h6M0,2638L35,3077h6M0,2657L35,3104h6M0,2676L35,3132h6M0,2695L35,3160h6"/>
</g>

<g id="qtl-1D-E4"><rect class="q" x="434" y="579" width="40" height="192"/><text class="ql" transform="translate(489,675) rotate(90)">qAI-1D-E4</text></g>
<g id="qtl-2A-E1"><rect class="q" x="845" y="1336" width="40" height="88"/><text class="ql" transform="translate(900,1380) rotate(90)">qAI-2A-E1</text></g>
<g id="qtl-2A-BLUE"><rect class="q" x="956" y="1347" width="40" height="66"/><text class="ql" transform="translate(1011,1380) rotate(90)">qAI-2A-BLUE</text></g>
<g id="qtl-2A-E4"><rect class="q" x="1067" y="1342" width="40" height="213"/><text class="ql" transform="translate(1122,1448) rotate(90)">qAI-2A-E4</text></g>
<g id="qtl-2B.2-E1"><rect class="q" x="1648" y="1499" width="40" height="34"/><text class="ql" transform="translate(1703,1516) rotate(90)">qAI-2B.2-E1</text></g>
<g id="qtl-2B.2-E4"><rect class="q" x="1759" y="1499" width="40" height="34"/><text class="ql" transform="translate(1814,1516) rotate(90)">qAI-2B.2-E4</text></g>
<g id="qtl-5A.1-E1"><rect class="q" x="2169" y="579" width="40" height="50"/><text class="ql" transform="translate(2224,604) rotate(90)">qAI-5A.1-E1</text></g>
<g id="qtl-5A.1-E2"><rect class="q" x="2280" y="579" width="40" height="50"/><text class="ql" transform="translate(2335,604) rotate(90)">qAI-5A.1-E2</text></g>
<g id="qtl-5A.1-E3"><rect class="q" x="2391" y="579" width="40" height="50"/><text class="ql" transform="translate(2446,604) rotate(90)">qAI-5A.1-E3</text></g>
<g id="qtl-5A.1-E4"><rect class="q" x="2502" y="579" width="40" height="50"/><text class="ql" transform="translate(2557,604) rotate(90)">qAI-5A.1-E4</text></g>
<g id="qtl-5A.1-BLUE"><rect class="q" x="2613" y="579" width="40" height="50"/><text class="ql" transform="translate(2668,604) rotate(90)">qAI-5A.1-BLUE</text></g>
<g id="qtl-5A.2-E1"><rect class="q" x="2169" y="2729" width="40" height="13"/><text class="ql" transform="translate(2224,2735.5) rotate(90)">qAI-5A.2-E1</text></g>
<g id="qtl-5A.2-E2"><rect class="q" x="2280" y="2729" width="40" height="13"/><text class="ql" transform="translate(2335,2735.5) rotate(90)">qAI-5A.2-E2</text></g>
<g id="qtl-5A.2-E3"><rect class="q" x="2391" y="2729" width="40" height="13"/><text class="ql" transform="translate(2446,2735.5) rotate(90)">qAI-5A.2-E3</text></g>
<g id="qtl-5A.2-E4"><rect class="q" x="2502" y="2729" width="40" height="13"/><text class="ql" transform="translate(2557,2735.5) rotate(90)">qAI-5A.2-E4</text></g>
<g id="qtl-5A.2-BLUE"><rect class="q" x="2613" y="2729" width="40" height="13"/><text class="ql" transform="translate(2668,2735.5) rotate(90)">qAI-5A.2-BLUE</text></g>
<g id="qtl-6B-E4"><rect class="q" x="3024" y="579" width="40" height="33"/><text class="ql" transform="translate(3079,595.5) rotate(90)">qAI-6B-E4</text></g>
<g id="qtl-7A-E3"><rect class="q" x="3606" y="786" width="40" height="120"/><text class="ql" transform="translate(3661,846) rotate(90)">qAI-7A-E3</text></g>
</svg>
